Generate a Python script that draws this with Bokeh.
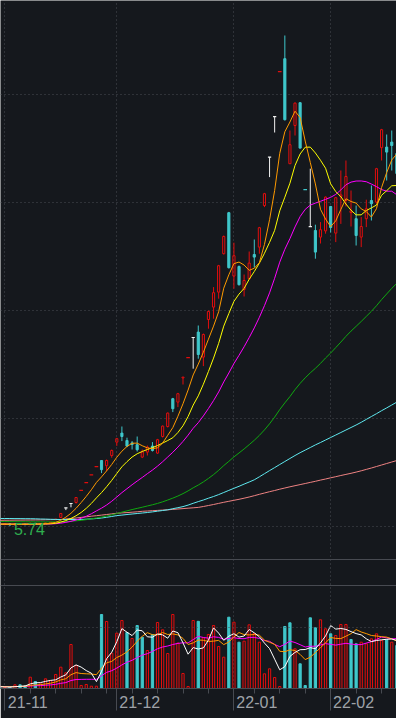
import pandas as pd
from bokeh.plotting import figure
from bokeh.models import Range1d, LinearAxis, FixedTicker, Span, Grid, ColumnDataSource
from bokeh.core.properties import value
from bokeh.embed import file_html
from bokeh.resources import INLINE

# ---------------- data ----------------
dates = ["2021-10-29",
         "2021-11-01", "2021-11-02", "2021-11-03", "2021-11-04", "2021-11-05",
         "2021-11-08", "2021-11-09", "2021-11-10", "2021-11-11", "2021-11-12",
         "2021-11-15", "2021-11-16", "2021-11-17", "2021-11-18", "2021-11-19",
         "2021-11-22", "2021-11-23", "2021-11-24", "2021-11-25", "2021-11-26",
         "2021-11-29", "2021-11-30",
         "2021-12-01", "2021-12-02", "2021-12-03",
         "2021-12-06", "2021-12-07", "2021-12-08", "2021-12-09", "2021-12-10",
         "2021-12-13", "2021-12-14", "2021-12-15", "2021-12-16", "2021-12-17",
         "2021-12-20", "2021-12-21", "2021-12-22", "2021-12-23", "2021-12-24",
         "2021-12-27", "2021-12-28", "2021-12-29", "2021-12-30", "2021-12-31",
         "2022-01-04", "2022-01-05", "2022-01-06", "2022-01-07",
         "2022-01-10", "2022-01-11", "2022-01-12", "2022-01-13", "2022-01-14",
         "2022-01-17", "2022-01-18", "2022-01-19", "2022-01-20", "2022-01-21",
         "2022-01-24", "2022-01-25", "2022-01-26", "2022-01-27", "2022-01-28",
         "2022-02-07", "2022-02-08", "2022-02-09", "2022-02-10", "2022-02-11",
         "2022-02-14", "2022-02-15", "2022-02-16", "2022-02-17", "2022-02-18",
         "2022-02-21", "2022-02-22", "2022-02-23", "2022-02-24"]

open_ = [5.82, 5.80, 5.83, 5.78, 5.84, 5.81, 5.79, 5.86, 5.82, 5.85,
         5.87, 6.04, 6.15, 6.63, 6.85, 6.90, 7.51, 7.89, 8.28, 8.69,
         9.00, 8.74, 9.25, 9.92, 10.37, 10.00, 9.88, 9.79, 9.17, 9.42,
         9.72, 9.37, 10.20, 10.70, 12.09, 11.92, 13.13, 14.14, 15.15, 15.42,
         14.17, 16.05, 16.67, 17.42, 19.34, 21.39, 18.22, 18.70, 17.55, 18.09,
         19.30, 19.67, 21.75, 24.17, 26.19, 28.44, 29.09, 23.84, 25.75, 26.89,
         22.54, 20.69, 20.50, 20.17, 20.48, 21.70, 20.37, 22.20, 22.00, 21.40,
         21.09, 20.17, 21.09, 22.00, 21.92, 24.64, 24.67, 24.92, 24.35]
high = [5.88, 5.86, 5.85, 5.86, 5.87, 5.84, 5.90, 5.88, 5.87, 5.90,
        5.93, 6.07, 6.36, 6.63, 6.85, 7.17, 7.51, 7.89, 8.28, 8.69,
        9.02, 9.05, 9.55, 10.13, 10.70, 10.14, 9.97, 10.20, 9.55, 9.75,
        9.92, 10.08, 10.75, 11.40, 12.13, 12.38, 13.17, 14.14, 15.15, 15.75,
        15.35, 16.50, 17.67, 18.78, 20.25, 21.43, 19.89, 18.75, 18.30, 19.45,
        20.05, 20.68, 22.38, 24.17, 26.19, 28.44, 30.25, 25.50, 26.90, 26.91,
        22.54, 23.59, 20.79, 20.92, 22.20, 21.73, 22.18, 23.50, 24.00, 22.50,
        21.75, 21.17, 22.04, 22.75, 23.63, 25.58, 25.30, 25.50, 24.50]
low = [5.77, 5.76, 5.74, 5.76, 5.79, 5.77, 5.78, 5.80, 5.80, 5.83,
       5.85, 6.03, 6.12, 6.52, 6.66, 6.85, 7.51, 7.89, 8.28, 8.69,
       8.37, 8.47, 9.14, 9.73, 9.97, 9.67, 9.55, 9.45, 9.12, 9.25,
       9.45, 9.33, 10.15, 10.65, 11.42, 11.67, 12.80, 14.14, 13.59, 14.09,
       13.72, 15.59, 16.09, 17.09, 19.30, 18.60, 17.59, 17.75, 17.20, 18.05,
       18.65, 19.34, 21.67, 23.17, 25.40, 28.44, 26.00, 23.82, 25.25, 24.60,
       22.54, 20.69, 19.09, 19.85, 20.34, 20.40, 19.92, 20.83, 21.70, 20.70,
       19.75, 19.67, 20.67, 21.00, 21.85, 24.00, 23.00, 23.50, 23.25]
close = [5.80, 5.83, 5.78, 5.84, 5.81, 5.79, 5.86, 5.82, 5.85, 5.88,
         5.91, 6.07, 6.35, 6.63, 6.85, 7.15, 7.51, 7.89, 8.28, 8.69,
         8.54, 9.00, 9.50, 10.09, 10.20, 9.72, 9.80, 9.54, 9.43, 9.67,
         9.50, 10.04, 10.72, 11.37, 11.59, 12.34, 13.17, 14.14, 15.15, 14.30,
         15.30, 16.45, 17.39, 18.74, 20.20, 18.64, 19.24, 17.79, 18.00, 18.87,
         19.17, 20.64, 22.34, 24.17, 26.19, 28.44, 26.04, 24.79, 26.87, 24.62,
         22.54, 20.69, 19.42, 20.54, 22.17, 20.65, 22.14, 22.28, 23.20, 21.48,
         20.25, 20.70, 21.59, 21.84, 23.59, 25.54, 24.42, 24.75, 23.35]
volume = [0.10, 0.10, 0.15, 0.37, 0.37, 0.27, 1.13, 0.70, 0.47, 0.97,
          0.80, 1.40, 2.13, 1.57, 4.40, 2.30, 0.30, 0.40, 0.23, 0.23,
          7.40, 6.70, 3.53, 5.53, 6.80, 5.60, 5.00, 6.30, 5.13, 3.80,
          5.40, 6.60, 5.87, 3.50, 7.40, 4.55, 1.50, 0.20, 6.80, 6.72,
          5.07, 5.40, 6.30, 4.20, 3.13, 7.13, 6.63, 4.63, 4.73, 6.37,
          5.50, 4.63, 1.47, 1.97, 1.10, 0.20, 6.20, 6.57, 3.97, 2.47,
          0.30, 7.07, 6.07, 6.87, 5.97, 5.47, 5.30, 6.40, 6.40, 4.90,
          4.47, 4.63, 4.47, 4.97, 5.47, 4.80, 4.87, 4.63, 4.30]

ma5 = [5.82, 5.82, 5.81, 5.81, 5.812, 5.81, 5.816, 5.824, 5.826, 5.84,
       5.864, 5.906, 6.012, 6.168, 6.362, 6.61, 6.898, 7.206, 7.536, 7.904,
       8.182, 8.48, 8.802, 9.164, 9.466, 9.702, 9.862, 9.87, 9.738, 9.632,
       9.588, 9.636, 9.872, 10.26, 10.644, 11.212, 11.838, 12.522, 13.278, 13.82,
       14.412, 15.068, 15.718, 16.436, 17.616, 18.284, 18.842, 18.922, 18.774, 18.508,
       18.614, 18.894, 19.804, 21.038, 22.502, 24.356, 25.436, 25.926, 26.466, 26.152,
       24.972, 23.902, 22.828, 21.562, 21.072, 20.694, 20.984, 21.556, 22.088, 21.95,
       21.87, 21.582, 21.444, 21.172, 21.594, 22.652, 23.396, 24.028, 24.33]
ma10 = [5.82, 5.82, 5.82, 5.82, 5.82, 5.82, 5.82, 5.82, 5.82, 5.826,
        5.837, 5.861, 5.918, 5.997, 6.101, 6.237, 6.402, 6.609, 6.852, 7.133,
        7.396, 7.689, 8.004, 8.35, 8.685, 8.942, 9.171, 9.336, 9.451, 9.549,
        9.645, 9.749, 9.871, 9.999, 10.138, 10.40, 10.737, 11.197, 11.769, 12.232,
        12.812, 13.453, 14.12, 14.857, 15.718, 16.348, 16.955, 17.32, 17.605, 18.062,
        18.449, 18.868, 19.363, 19.906, 20.505, 21.485, 22.165, 22.865, 23.752, 24.327,
        24.664, 24.669, 24.377, 24.014, 23.612, 22.833, 22.443, 22.192, 21.825, 21.511,
        21.282, 21.283, 21.50, 21.63, 21.772, 22.261, 22.489, 22.736, 22.751]
ma20 = [5.819, 5.818, 5.817, 5.817, 5.817, 5.817, 5.818, 5.82, 5.821, 5.823,
        5.828, 5.84, 5.867, 5.907, 5.959, 6.025, 6.11, 6.213, 6.336, 6.48,
        6.617, 6.775, 6.961, 7.174, 7.393, 7.59, 7.787, 7.973, 8.152, 8.341,
        8.521, 8.719, 8.938, 9.175, 9.412, 9.671, 9.954, 10.267, 10.61, 10.891,
        11.229, 11.601, 11.996, 12.428, 12.928, 13.374, 13.846, 14.259, 14.687, 15.147,
        15.631, 16.161, 16.742, 17.382, 18.112, 18.917, 19.56, 20.093, 20.679, 21.195,
        21.557, 21.769, 21.87, 21.96, 22.059, 22.159, 22.304, 22.529, 22.789, 22.919,
        22.973, 22.976, 22.939, 22.822, 22.692, 22.547, 22.466, 22.464, 22.288]
ma60 = [5.948, 5.946, 5.943, 5.941, 5.939, 5.936, 5.934, 5.932, 5.931, 5.929,
        5.929, 5.931, 5.937, 5.949, 5.964, 5.984, 6.01, 6.042, 6.081, 6.127,
        6.17, 6.221, 6.28, 6.349, 6.42, 6.482, 6.547, 6.606, 6.664, 6.726,
        6.786, 6.854, 6.933, 7.024, 7.118, 7.224, 7.344, 7.481, 7.634, 7.773,
        7.929, 8.104, 8.295, 8.508, 8.746, 8.957, 9.179, 9.376, 9.577, 9.792,
        10.012, 10.257, 10.53, 10.834, 11.171, 11.546, 11.881, 12.195, 12.544, 12.855,
        13.134, 13.382, 13.609, 13.854, 14.127, 14.374, 14.646, 14.92, 15.209, 15.469,
        15.708, 15.952, 16.206, 16.459, 16.738, 17.045, 17.327, 17.608, 17.859]
ma120 = [6.100, 6.100, 6.100, 6.095, 6.095, 6.090, 6.090, 6.085, 6.075, 6.070,
         6.060, 6.055, 6.050, 6.050, 6.050, 6.050, 6.050, 6.065, 6.080, 6.100,
         6.125, 6.160, 6.200, 6.245, 6.270, 6.300, 6.325, 6.350, 6.375, 6.400,
         6.430, 6.465, 6.500, 6.535, 6.590, 6.640, 6.695, 6.770, 6.860, 6.945,
         7.025, 7.115, 7.200, 7.295, 7.400, 7.505, 7.610, 7.710, 7.820, 7.925,
         8.035, 8.185, 8.340, 8.495, 8.645, 8.800, 8.950, 9.100, 9.250, 9.390,
         9.520, 9.650, 9.780, 9.900, 10.025, 10.150, 10.275, 10.400, 10.525, 10.650,
         10.775, 10.910, 11.055, 11.200, 11.340, 11.490, 11.630, 11.775, 11.920]
ma250 = [6.010, 6.012, 6.015, 6.018, 6.020, 6.022, 6.025, 6.028, 6.030, 6.035,
         6.040, 6.045, 6.050, 6.075, 6.100, 6.125, 6.155, 6.185, 6.215, 6.240,
         6.270, 6.300, 6.330, 6.360, 6.380, 6.395, 6.415, 6.435, 6.460, 6.475,
         6.490, 6.505, 6.520, 6.535, 6.555, 6.575, 6.595, 6.615, 6.635, 6.655,
         6.700, 6.750, 6.800, 6.855, 6.910, 6.960, 7.010, 7.060, 7.115, 7.175,
         7.240, 7.310, 7.375, 7.440, 7.500, 7.565, 7.625, 7.685, 7.740, 7.795,
         7.850, 7.905, 7.960, 8.020, 8.075, 8.135, 8.190, 8.250, 8.305, 8.360,
         8.420, 8.485, 8.555, 8.625, 8.700, 8.775, 8.850, 8.925, 9.000]
vol_ma5 = [0.18, 0.16, 0.15, 0.18, 0.22, 0.25, 0.46, 0.57, 0.59, 0.71,
           0.81, 0.87, 1.15, 1.37, 2.06, 2.36, 2.14, 1.79, 1.53, 0.69,
           1.71, 2.99, 3.62, 4.68, 5.99, 5.63, 5.29, 5.85, 5.77, 5.17,
           5.13, 5.45, 5.36, 5.03, 5.75, 5.58, 4.56, 3.43, 4.09, 3.95,
           4.06, 4.84, 6.06, 5.54, 4.82, 5.23, 5.48, 5.14, 5.25, 5.90,
           5.57, 5.17, 4.54, 3.99, 2.93, 1.87, 2.19, 3.21, 3.61, 3.88,
           3.90, 4.08, 3.98, 4.56, 5.26, 6.29, 5.94, 6.00, 5.91, 5.69,
           5.49, 5.36, 4.97, 4.69, 4.80, 4.87, 4.92, 4.95, 4.81]
vol_ma10 = [0.19, 0.18, 0.18, 0.19, 0.21, 0.22, 0.31, 0.36, 0.39, 0.46,
            0.53, 0.66, 0.86, 0.98, 1.38, 1.59, 1.50, 1.47, 1.45, 1.38,
            2.04, 2.57, 2.71, 3.10, 3.34, 3.67, 4.14, 4.73, 5.22, 5.58,
            5.38, 5.37, 5.60, 5.40, 5.46, 5.36, 5.01, 4.40, 4.56, 4.85,
            4.82, 4.70, 4.74, 4.81, 4.39, 4.65, 5.16, 5.60, 5.39, 5.36,
            5.40, 5.33, 4.84, 4.62, 4.42, 3.72, 3.68, 3.87, 3.80, 3.41,
            2.89, 3.13, 3.59, 4.08, 4.57, 5.10, 5.01, 4.99, 5.23, 5.48,
            5.89, 5.65, 5.49, 5.30, 5.25, 5.18, 5.14, 4.96, 4.75]
vol_ma20 = [0.20, 0.19, 0.19, 0.20, 0.20, 0.21, 0.25, 0.28, 0.29, 0.33,
            0.36, 0.42, 0.52, 0.59, 0.80, 0.90, 0.91, 0.92, 0.92, 0.92,
            1.28, 1.61, 1.78, 2.04, 2.36, 2.63, 2.82, 3.10, 3.34, 3.48,
            3.71, 3.97, 4.15, 4.25, 4.40, 4.51, 4.57, 4.56, 4.89, 5.22,
            5.10, 5.04, 5.17, 5.11, 4.92, 5.00, 5.08, 5.00, 4.98, 5.11,
            5.11, 5.01, 4.79, 4.72, 4.40, 4.18, 4.42, 4.74, 4.60, 4.38,
            4.15, 4.23, 4.22, 4.35, 4.49, 4.41, 4.34, 4.43, 4.52, 4.44,
            4.39, 4.39, 4.54, 4.69, 4.91, 5.14, 5.07, 4.98, 4.99]

# ---------------- style ----------------
BG = "#15181d"
RED = "#e20d0d"
CYAN = "#3fc7cb"
WHITE = "#f0f0f0"
GRIDC = "#4a4d55"
EDGE = "#474a51"
LABELC = "#9ea2a8"
LOWC = "#2fae4e"
MA_COLORS = {"ma5": "#ff9a00", "ma10": "#ffff00", "ma20": "#ff00ff",
             "ma60": "#10a810", "ma120": "#5fe9f0", "ma250": "#ee8282"}

n = len(dates)
xs = list(range(n))
dt = pd.to_datetime(pd.Series(dates))
month_starts = [i for i in xs[1:] if dt[i].month != dt[i - 1].month]
mondays = [i for i in xs if dt[i].weekday() == 0]
label_pos = {i + 4.5: dt[i].strftime("%y-%m") for i in month_starts}

p = figure(width=396, height=718,
           x_range=Range1d(0.158, 77.93), y_range=Range1d(-2.4, 32.0),
           toolbar_location=None, output_backend="svg",
           y_axis_location=None,
           min_border_left=0, min_border_right=0, min_border_top=0, min_border_bottom=30,
           background_fill_color=BG, border_fill_color=BG, outline_line_color=None)
p.extra_y_ranges = {"vol": Range1d(0, 68.8)}
p.xgrid.visible = False
p.ygrid.visible = False

p.add_layout(Grid(dimension=0, ticker=FixedTicker(ticks=month_starts),
                  grid_line_color=GRIDC, grid_line_dash="1 3"))
p.add_layout(Grid(dimension=1, ticker=FixedTicker(ticks=[5.7, 11.1, 16.5, 21.9, 27.3]),
                  grid_line_color=GRIDC, grid_line_dash="1 3"))
p.add_layout(Span(location=6.1, dimension="width", y_range_name="vol",
                  line_color=GRIDC, line_dash="1 3", line_width=1))
p.add_layout(Span(location=4.05, dimension="width", line_color=EDGE, line_width=1))
p.add_layout(Span(location=10.3, dimension="width", y_range_name="vol",
                  line_color=EDGE, line_width=1))

# ---------------- candles ----------------
up = dict(x=[], top=[], bottom=[])
dn = dict(x=[], top=[], bottom=[])
wick = {RED: dict(x=[], y0=[], y1=[]), CYAN: dict(x=[], y0=[], y1=[]), WHITE: dict(x=[], y0=[], y1=[])}
flat = {RED: dict(x0=[], x1=[], y=[]), CYAN: dict(x0=[], x1=[], y=[]), WHITE: dict(x0=[], x1=[], y=[])}
vup = dict(x=[], top=[])
vdn = dict(x=[], top=[])

for i in xs:
    o, h, l, c = open_[i], high[i], low[i], close[i]
    prev = close[i - 1] if i > 0 else o
    if c > o:
        up["x"].append(i); up["top"].append(c); up["bottom"].append(o)
        if h > c:
            wick[RED]["x"].append(i); wick[RED]["y0"].append(c); wick[RED]["y1"].append(h)
        if l < o:
            wick[RED]["x"].append(i); wick[RED]["y0"].append(l); wick[RED]["y1"].append(o)
    elif c < o:
        dn["x"].append(i); dn["top"].append(o); dn["bottom"].append(c)
        wick[CYAN]["x"].append(i); wick[CYAN]["y0"].append(l); wick[CYAN]["y1"].append(h)
    elif h == l:
        col = RED if c >= prev else CYAN
        flat[col]["x0"].append(i - 0.36); flat[col]["x1"].append(i + 0.36); flat[col]["y"].append(c)
    else:
        wick[WHITE]["x"].append(i); wick[WHITE]["y0"].append(l); wick[WHITE]["y1"].append(h)
        flat[WHITE]["x0"].append(i - 0.32); flat[WHITE]["x1"].append(i + 0.32); flat[WHITE]["y"].append(c)
    vt = vup if c >= prev else vdn
    vt["x"].append(i); vt["top"].append(volume[i])

for col, d in wick.items():
    p.segment(x0="x", y0="y0", x1="x", y1="y1", source=ColumnDataSource(d),
              line_color=col, line_width=1)
p.vbar(x="x", top="top", bottom="bottom", width=0.42, source=ColumnDataSource(up),
       fill_color=None, line_color=RED, line_width=1)
p.vbar(x="x", top="top", bottom="bottom", width=0.42, source=ColumnDataSource(dn),
       fill_color=CYAN, line_color=CYAN, line_width=1)
for col, d in flat.items():
    p.segment(x0="x0", y0="y", x1="x1", y1="y", source=ColumnDataSource(d),
              line_color=col, line_width=1.2)

# volume bars
p.vbar(x="x", top="top", bottom=0, width=0.44, source=ColumnDataSource(vup),
       fill_color=None, line_color=RED, line_width=1, y_range_name="vol")
p.vbar(x="x", top="top", bottom=0, width=0.44, source=ColumnDataSource(vdn),
       fill_color=CYAN, line_color=CYAN, line_width=1, y_range_name="vol")

# moving averages
for name, arr in [("ma250", ma250), ("ma120", ma120), ("ma60", ma60),
                  ("ma20", ma20), ("ma10", ma10), ("ma5", ma5)]:
    p.line(xs, arr, line_color=MA_COLORS[name], line_width=1)
p.line(xs, vol_ma20, line_color="#ff00ff", line_width=1, y_range_name="vol")
p.line(xs, vol_ma10, line_color="#ff9a00", line_width=1, y_range_name="vol")
p.line(xs, vol_ma5, line_color="#ffffff", line_width=1, y_range_name="vol")

# lowest price label
imin = low.index(min(low))
p.text(x=[imin], y=[low[imin]], text=[f"{low[imin]:.2f}"],
       text_font=value("Liberation Sans"), text_font_size="16px", text_color=LOWC,
       text_align="left", text_baseline="middle", x_offset=4, y_offset=3)

# ---------------- x axis ----------------
xa = p.xaxis[0]
xa.ticker = FixedTicker(ticks=list(label_pos.keys()), minor_ticks=mondays + month_starts)
xa.major_label_overrides = label_pos
xa.major_tick_out = 0
xa.major_tick_in = 0
xa.minor_tick_out = 5
xa.minor_tick_in = 0
xa.axis_line_color = EDGE
xa.minor_tick_line_color = EDGE
xa.major_label_text_font = "Liberation Sans"
xa.major_label_text_font_size = "16px"
xa.major_label_text_color = LABELC
xa.major_label_standoff = 2

# second (label-less) axis that only carries the long month-start ticks
xa2 = LinearAxis(ticker=FixedTicker(ticks=month_starts, minor_ticks=[]),
                 major_tick_in=22, major_tick_out=0, minor_tick_in=0, minor_tick_out=0,
                 axis_line_color=None, major_tick_line_color=EDGE,
                 major_label_text_color=None, major_label_standoff=0)
p.add_layout(xa2, "below")

open("out.html", "w").write(file_html(p, INLINE))
